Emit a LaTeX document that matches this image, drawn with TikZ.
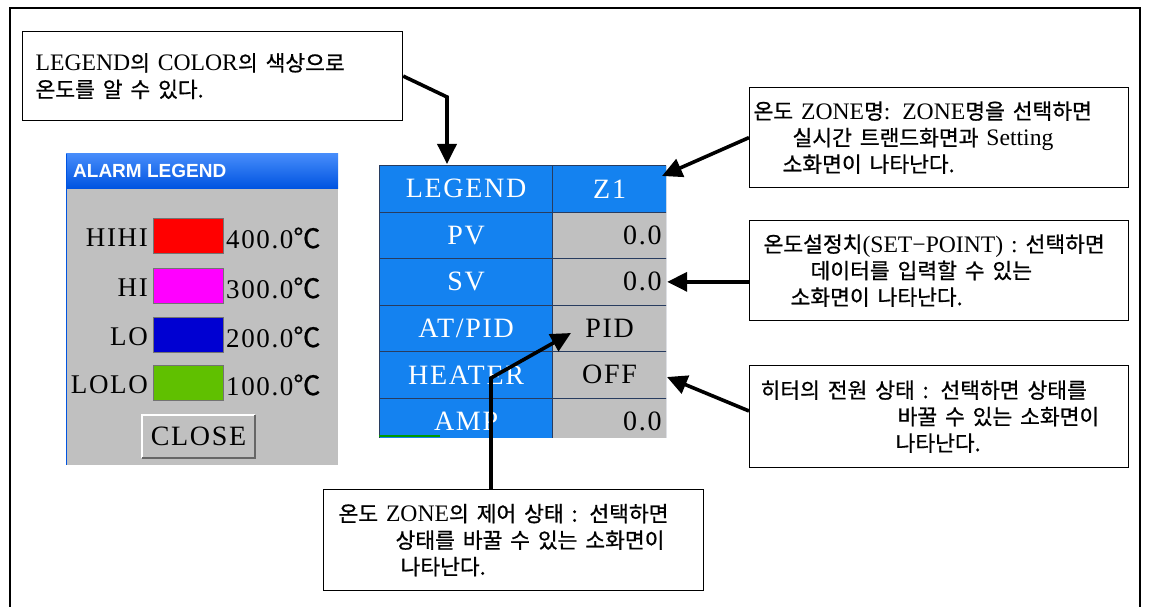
\documentclass[tikz,border=0pt]{standalone}
\usepackage{fontspec}
\setmainfont[Scale=1.1]{Liberation Serif}
\newfontfamily\kr[WordSpace=1.7,FakeBold=0.8]{Noto Sans CJK KR}
\newfontfamily\uiserif[LetterSpace=6]{Liberation Serif}
\newfontfamily\uisans{Liberation Sans}
\newcommand\ko[1]{{\kr #1}}
\usetikzlibrary{arrows.meta}
\definecolor{tblue}{RGB}{20,130,240}
\definecolor{sepcol}{RGB}{40,60,95}
\definecolor{wingray}{RGB}{192,192,192}
\definecolor{titletop}{RGB}{70,140,250}
\definecolor{titlebot}{RGB}{0,84,225}
\definecolor{swred}{RGB}{255,0,0}
\definecolor{swmag}{RGB}{255,0,255}
\definecolor{swblue}{RGB}{0,0,210}
\definecolor{swgreen}{RGB}{96,192,0}
\tikzset{
  note/.style={draw=black, line width=1.2pt, fill=white, anchor=north west,
    inner xsep=0pt, inner ysep=0pt, align=left,
    font=\fontsize{21.5}{26.5}\selectfont},
  arr/.style={line width=3.6pt, line join=miter, -{Triangle[length=20pt,width=19pt]}},
  lcell/.style={anchor=north west, fill=tblue, draw=sepcol, line width=1.2pt,
    minimum height=46.5pt, text width=163pt, inner xsep=5pt, align=center,
    text=white, font=\uiserif\fontsize{28}{28}\selectfont},
  rcell/.style={anchor=north west, fill=wingray, draw=sepcol, line width=1.2pt,
    minimum height=46.5pt, text width=104pt, inner xsep=5pt,
    text=black, font=\uiserif\fontsize{28}{28}\selectfont},
  zcell/.style={rcell, fill=tblue, text=white, align=center},
  swatch/.style={draw=black!55, line width=1pt, minimum width=70pt, minimum height=35pt, inner sep=0pt},
  lglabel/.style={anchor=east, inner sep=0pt, font=\uiserif\fontsize{27}{27}\selectfont},
  lgvalue/.style={anchor=west, inner sep=0pt, font=\uiserif\fontsize{27}{27}\selectfont},
}
\begin{document}
\begin{tikzpicture}[x=1pt,y=-1pt]
\useasboundingbox (0,0) rectangle (1151,607);
% outer frame (open at bottom)
\draw[line width=1.6pt] (10,607) -- (10,8) -- (1140,8) -- (1140,607);

% ---------- alarm legend window ----------
\fill[wingray] (66,154) rectangle (338,465);
\shade[top color=titletop, bottom color=titlebot] (66,154) rectangle (338,188);
\draw[titlebot, line width=1.5pt] (66.5,154) -- (66.5,465);
\node[anchor=west, inner sep=0pt, text=white, font=\uisans\bfseries\fontsize{19}{19}\selectfont] (lgtitle) at (73,171) {ALARM LEGEND};
\node[swatch, fill=swred]   (sw1) at (188,235.5) {};
\node[swatch, fill=swmag]   (sw2) at (188,285.5) {};
\node[swatch, fill=swblue]  (sw3) at (188,334.5) {};
\node[swatch, fill=swgreen] (sw4) at (188,382.5) {};
\node[lglabel] (lb1) at (148,238) {HIHI};
\node[lglabel] (lb2) at (148,288) {HI};
\node[lglabel] (lb3) at (148,337) {LO};
\node[lglabel] (lb4) at (148,385) {LOLO};
\node[lgvalue] (va1) at (226,238) {400.0\ko{℃}};
\node[lgvalue] (va2) at (226,288) {300.0\ko{℃}};
\node[lgvalue] (va3) at (226,337) {200.0\ko{℃}};
\node[lgvalue] (va4) at (226,385) {100.0\ko{℃}};
\node[fill=wingray, minimum width=113pt, minimum height=43pt, inner sep=0pt,
      font=\uiserif\fontsize{28}{28}\selectfont] (close) at (198.5,436.5) {CLOSE};
\draw[white, line width=1.5pt] (close.south west) |- (close.north east);
\draw[black!60, line width=2pt] (close.south west) -| (close.north east);

% ---------- zone table ----------
\begin{scope}
\clip (379,165) rectangle (666,437);
\fill[tblue] (379,165) rectangle (666,437);
\node[lcell] (c1) at (379,165)   {LEGEND};
\node[lcell] (c2) at (379,211.5) {PV};
\node[lcell] (c3) at (379,258)   {SV};
\node[lcell] (c4) at (379,304.5) {AT/PID};
\node[lcell] (c5) at (379,351)   {HEATER};
\node[lcell] (c6) at (379,397.5) {AMP};
\node[zcell] (v1) at (552,165)   {Z1};
\node[rcell, align=right]  (v2) at (552,211.5) {0.0};
\node[rcell, align=right]  (v3) at (552,258)   {0.0};
\node[rcell, align=center] (v4) at (552,304.5) {PID};
\node[rcell, align=center] (v5) at (552,351)   {OFF};
\node[rcell, align=right]  (v6) at (552,397.5) {0.0};
\fill[green!60!black] (379,434.5) rectangle (440,437);
\end{scope}

% ---------- notes ----------
\node[note, text width=380pt, minimum height=89pt] (n1) at (22,31)
 {\hspace*{13pt}LEGEND\ko{의} COLOR\ko{의 색상으로}\\
  \hspace*{13pt}\ko{온도를 알 수 있다.}};
\node[note, text width=379pt, minimum height=100pt] (n2) at (749,87)
 {\hspace*{4pt}\ko{온도} ZONE\ko{명}: ZONE\ko{명을 선택하면}\\
  \hspace*{43pt}\ko{실시간 트랜드화면과} Setting\\
  \hspace*{33pt}\ko{소화면이 나타난다.}};
\node[note, text width=379pt, minimum height=100pt] (n3) at (749,220)
 {\hspace*{14pt}\ko{온도설정치}(SET−POINT) : \ko{선택하면}\\
  \hspace*{61pt}\ko{데이터를 입력할 수 있는}\\
  \hspace*{41pt}\ko{소화면이 나타난다.}};
\node[note, text width=379pt, minimum height=102pt] (n4) at (749,365)
 {\hspace*{11pt}\ko{히터의 전원 상태 : 선택하면 상태를}\\
  \hspace*{148pt}\ko{바꿀 수 있는 소화면이}\\
  \hspace*{146pt}\ko{나타난다.}};
\node[note, text width=380pt, minimum height=101pt] (n5) at (323,489)
 {\hspace*{15pt}\ko{온도} ZONE\ko{의 제어 상태 : 선택하면}\\
  \hspace*{72pt}\ko{상태를 바꿀 수 있는 소화면이}\\
  \hspace*{77pt}\ko{나타난다.}};

% ---------- connectors ----------
\coordinate (k1) at (447,97);
\coordinate (t1) at (447,164);
\draw[arr] (n1.east) -- (k1) -- (t1);
\coordinate (t2) at (662,176);
\draw[arr] (n2.west) -- (t2);
\draw[arr] (n3.west |- v3.east) -- (v3.east);
\coordinate (s4) at (749,411);
\coordinate (t4) at (667,377);
\draw[arr] (s4) -- (t4);
\coordinate (s5) at (491,489);
\coordinate (k5) at (491,378);
\coordinate (t5) at (571,333);
\draw[arr] (s5) -- (k5) -- (t5);
\end{tikzpicture}
\end{document}
